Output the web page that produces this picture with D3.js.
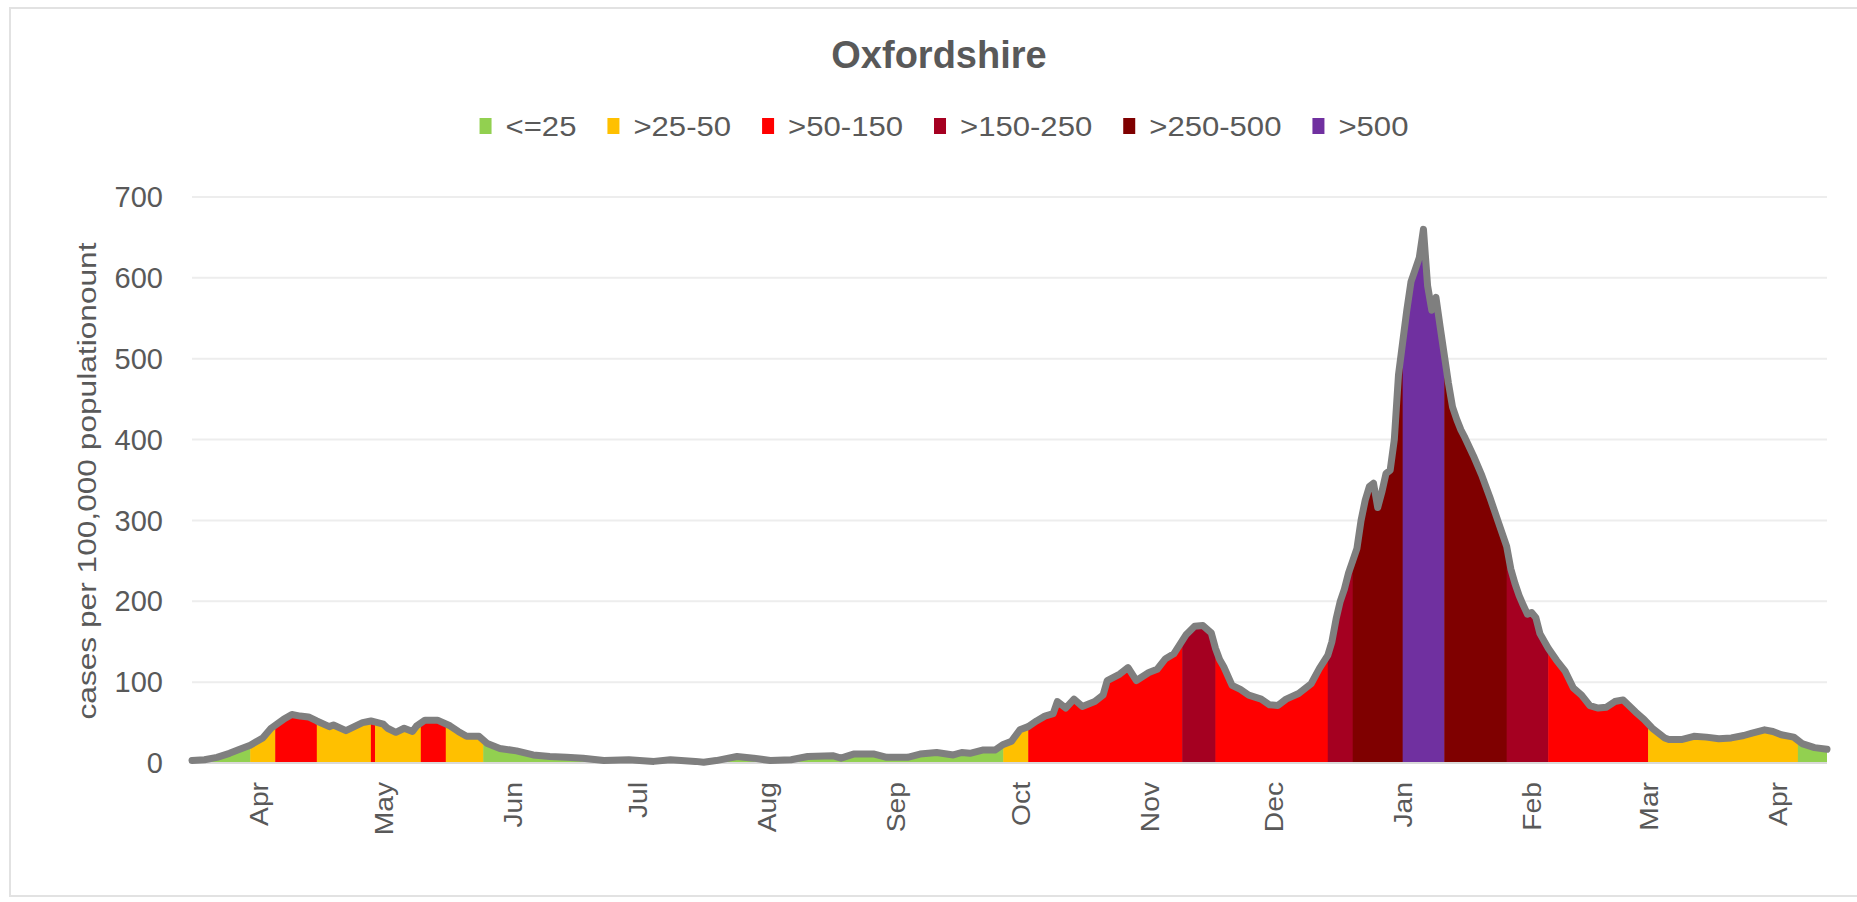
<!DOCTYPE html>
<html>
<head>
<meta charset="utf-8">
<title>Oxfordshire</title>
<script src="https://cdn.jsdelivr.net/npm/d3@7"></script>
<style>
  body { margin: 0; background: #fff; }
  svg text { font-family: "Liberation Sans", Arial, sans-serif; fill: #595959; }
</style>
</head>
<body>
<svg width="1857" height="902"></svg>
<script>
// 7-day case rate per 100,000
const days = [
  "2020-03-15","2020-03-18","2020-03-21","2020-03-24","2020-03-26","2020-03-29",
  "2020-04-01","2020-04-03","2020-04-06","2020-04-08","2020-04-10","2020-04-12","2020-04-14","2020-04-17","2020-04-18","2020-04-21","2020-04-23","2020-04-25","2020-04-27","2020-04-30",
  "2020-05-01","2020-05-03","2020-05-05","2020-05-07","2020-05-08","2020-05-10","2020-05-13","2020-05-16","2020-05-18","2020-05-20","2020-05-23","2020-05-25","2020-05-28",
  "2020-06-01","2020-06-05","2020-06-09","2020-06-13","2020-06-17","2020-06-22","2020-06-28",
  "2020-07-04","2020-07-08","2020-07-14","2020-07-16","2020-07-19","2020-07-24","2020-07-28",
  "2020-08-01","2020-08-06","2020-08-10","2020-08-16","2020-08-18","2020-08-21","2020-08-26","2020-08-29",
  "2020-09-03","2020-09-06","2020-09-10","2020-09-14","2020-09-16","2020-09-18","2020-09-21","2020-09-24","2020-09-26","2020-09-28","2020-09-30",
  "2020-10-02","2020-10-04","2020-10-06","2020-10-08","2020-10-09","2020-10-11","2020-10-13","2020-10-15","2020-10-18","2020-10-20","2020-10-21","2020-10-24","2020-10-26","2020-10-28","2020-10-31",
  "2020-11-02","2020-11-04","2020-11-06","2020-11-08","2020-11-09","2020-11-11","2020-11-13","2020-11-15","2020-11-16","2020-11-17","2020-11-18","2020-11-20","2020-11-22","2020-11-24","2020-11-27","2020-11-29",
  "2020-12-01","2020-12-03","2020-12-06","2020-12-09","2020-12-11","2020-12-13","2020-12-14","2020-12-15","2020-12-16","2020-12-17","2020-12-18","2020-12-19","2020-12-20","2020-12-21","2020-12-22","2020-12-23","2020-12-24","2020-12-25","2020-12-26","2020-12-27","2020-12-28","2020-12-29","2020-12-30","2020-12-31",
  "2021-01-01","2021-01-02","2021-01-03","2021-01-04","2021-01-05","2021-01-06","2021-01-07","2021-01-08","2021-01-09","2021-01-10","2021-01-11","2021-01-12","2021-01-13","2021-01-14","2021-01-15","2021-01-17","2021-01-19","2021-01-21","2021-01-23","2021-01-25","2021-01-26","2021-01-27","2021-01-28","2021-01-29","2021-01-30","2021-01-31",
  "2021-02-01","2021-02-02","2021-02-04","2021-02-06","2021-02-08","2021-02-10","2021-02-12","2021-02-14","2021-02-16","2021-02-18","2021-02-20","2021-02-22","2021-02-25","2021-02-27",
  "2021-03-01","2021-03-04","2021-03-05","2021-03-08","2021-03-11","2021-03-14","2021-03-17","2021-03-20","2021-03-23","2021-03-25","2021-03-28","2021-03-30",
  "2021-04-01","2021-04-04","2021-04-06","2021-04-09","2021-04-12"
];
const rate = [
  3,4,7,12,16,22,
  31,43,54,60,58,57,52,45,47,40,45,50,52,48,
  43,38,43,39,46,53,53,46,39,33,33,24,18,
  15,10,8,7,6,3,4,
  2,4,2,1,3,8,6,
  3,4,8,9,6,11,11,7,
  7,11,13,10,13,12,16,16,23,27,41,
  45,52,58,61,76,68,79,70,76,84,102,110,118,102,112,
  116,129,135,151,159,169,170,161,142,128,119,96,91,84,79,72,
  71,79,86,98,117,133,150,178,200,215,235,250,265,300,325,342,346,316,335,358,362,400,480,520,
  560,595,610,625,660,590,560,576,540,505,470,440,425,412,402,380,356,328,298,268,240,222,207,195,184,186,
  180,160,142,127,114,93,84,71,68,69,76,78,63,54,
  43,31,29,29,33,32,30,31,34,37,41,39,
  35,32,24,19,17
];

// colour band of the filled area: first day of each run and its level
const bandStart = ["2020-03-15","2020-03-29","2020-04-04","2020-04-14","2020-04-27","2020-04-28","2020-05-09","2020-05-15","2020-05-24",
                   "2020-09-26","2020-10-02","2020-11-08","2020-11-16","2020-12-13","2020-12-19","2020-12-31","2021-01-10","2021-01-25",
                   "2021-02-04","2021-02-28","2021-04-05"];
const bandLevel = [0,1,2,1,2,1,2,1,0, 1,2,3,2,3,4,5,4,3, 2,1,0];

const levelNames = ["<=25", ">25-50", ">50-150", ">150-250", ">250-500", ">500"];
const levelColours = ["#92d050", "#ffc000", "#ff0000", "#a50021", "#7f0000", "#7030a0"];

const yTicks = [0, 100, 200, 300, 400, 500, 600, 700];
const monthTicks = ["2020-04-01","2020-05-01","2020-06-01","2020-07-01","2020-08-01","2020-09-01","2020-10-01",
                    "2020-11-01","2020-12-01","2021-01-01","2021-02-01","2021-03-01","2021-04-01"];
const monthLabels = ["Apr","May","Jun","Jul","Aug","Sep","Oct","Nov","Dec","Jan","Feb","Mar","Apr"];

const parse = d3.timeParse("%Y-%m-%d");
const data = days.map((d, i) => ({ date: parse(d), v: rate[i] }));
const endDate = data[data.length - 1].date;

const svg = d3.select("svg");

// outer chart frame
svg.append("rect")
  .attr("x", 10).attr("y", 8).attr("width", 1870).attr("height", 888)
  .attr("fill", "none").attr("stroke", "#e2e2e2").attr("stroke-width", 2);

const x = d3.scaleTime().domain(d3.extent(data, d => d.date)).range([192, 1827]);
const y = d3.scaleLinear().domain([0, 700]).range([763, 197]);

// gridlines
svg.append("g").selectAll("line")
  .data(yTicks.filter(t => t > 0))
  .enter().append("line")
  .attr("x1", 192).attr("x2", 1827)
  .attr("y1", d => y(d)).attr("y2", d => y(d))
  .attr("stroke", "#ededed").attr("stroke-width", 2);

// filled area, coloured by band
const area = d3.area().x(d => x(d.date)).y0(y(0)).y1(d => y(d.v));
svg.append("clipPath").attr("id", "under")
  .append("path").attr("d", area(data));

const bands = bandStart.map((s, i) => ({
  from: parse(s),
  to: i + 1 < bandStart.length ? parse(bandStart[i + 1]) : endDate,
  level: bandLevel[i]
}));

svg.append("g").attr("clip-path", "url(#under)")
  .selectAll("rect")
  .data(bands)
  .enter().append("rect")
  .attr("x", d => x(d.from))
  .attr("width", d => x(d.to) - x(d.from) + 0.5)
  .attr("y", y(700))
  .attr("height", y(0) - y(700))
  .attr("fill", d => levelColours[d.level]);

// baseline
svg.append("line")
  .attr("x1", 192).attr("x2", 1827)
  .attr("y1", y(0)).attr("y2", y(0))
  .attr("stroke", "#d9d9d9").attr("stroke-width", 2);

// rate line
svg.append("path")
  .datum(data)
  .attr("d", d3.line().x(d => x(d.date)).y(d => y(d.v)))
  .attr("fill", "none")
  .attr("stroke", "#7f7f7f")
  .attr("stroke-width", 7)
  .attr("stroke-linejoin", "round")
  .attr("stroke-linecap", "round");

// y tick labels
svg.append("g").selectAll("text")
  .data(yTicks)
  .enter().append("text")
  .attr("x", 163).attr("y", d => y(d))
  .attr("dy", "0.35em")
  .attr("text-anchor", "end")
  .style("font-size", "29px")
  .text(d => d);

// month labels, rotated
svg.append("g").selectAll("text")
  .data(monthTicks)
  .enter().append("text")
  .attr("transform", d => "translate(" + x(parse(d)) + ",782) rotate(-90)")
  .attr("dy", "0.22em")
  .attr("text-anchor", "end")
  .style("font-size", "25px")
  .text((d, i) => monthLabels[i])
  .each(function() {
    const w = this.getComputedTextLength();
    d3.select(this).attr("textLength", w * 1.13).attr("lengthAdjust", "spacingAndGlyphs");
  });

// axis title
svg.append("text")
  .attr("transform", "translate(96,481) rotate(-90)")
  .attr("text-anchor", "middle")
  .attr("textLength", 477)
  .attr("lengthAdjust", "spacingAndGlyphs")
  .style("font-size", "25px")
  .text("cases per 100,000 populationount");

// chart title
svg.append("text")
  .attr("x", 939).attr("y", 68)
  .attr("text-anchor", "middle")
  .style("font-size", "38px")
  .style("font-weight", "bold")
  .text("Oxfordshire");

// legend
const legend = svg.append("g");
let lx = 0;
levelNames.forEach((name, i) => {
  const item = legend.append("g").attr("transform", "translate(" + lx + ",0)");
  item.append("rect")
    .attr("x", 0).attr("y", 118).attr("width", 12).attr("height", 16)
    .attr("fill", levelColours[i]);
  const t = item.append("text")
    .attr("x", 26).attr("y", 136)
    .style("font-size", "28px")
    .text(name);
  const w = t.node().getComputedTextLength() * 1.11;
  t.attr("textLength", w).attr("lengthAdjust", "spacingAndGlyphs");
  lx += 26 + w + 31;
});
const legendWidth = lx - 31;
legend.attr("transform", "translate(" + (944 - legendWidth / 2) + ",0)");
</script>
</body>
</html>
